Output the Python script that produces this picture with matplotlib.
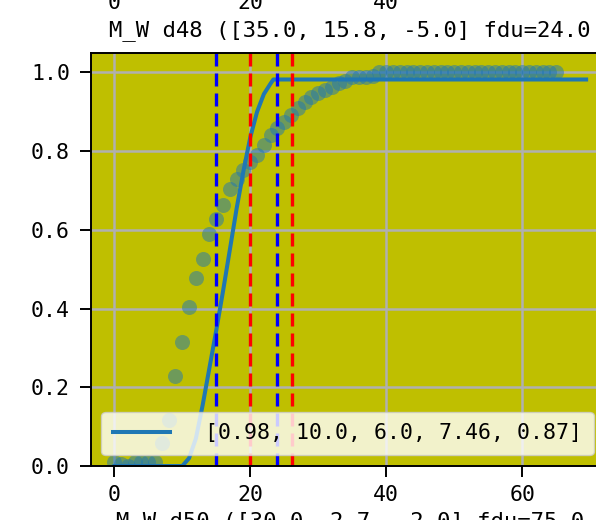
import matplotlib
matplotlib.use("Agg")
import matplotlib.pyplot as plt
from matplotlib.ticker import MultipleLocator

plt.rcParams['font.family'] = ['DejaVu Sans Mono']
plt.rcParams['font.size'] = 15.5

# measured points (x, cumulative fraction)
pts_x = list(range(0, 66))
pts_y = [0.01, 0.005, 0.0, 0.01, 0.01, 0.01, 0.01, 0.058, 0.117, 0.229,
         0.316, 0.403, 0.477, 0.527, 0.589, 0.627, 0.663, 0.703, 0.73, 0.752,
         0.773, 0.79, 0.815, 0.84, 0.858, 0.875, 0.892, 0.91, 0.925, 0.938,
         0.947, 0.955, 0.964, 0.972, 0.978, 0.988, 0.988, 0.988, 0.99] + [1.0] * 27

# fitted curve
fit_x = [0, 10, 11, 12, 13, 14, 15, 16, 17, 18, 19, 20, 21, 22, 23, 23.4, 69.4]
fit_y = [0, 0, 0.02, 0.07, 0.155, 0.25, 0.345, 0.445, 0.55, 0.655, 0.75, 0.835,
         0.9, 0.945, 0.972, 0.982, 0.982]
fit_label = "[0.98, 10.0, 6.0, 7.46, 0.87]"

blue_marks = [15.0, 24.0]
red_marks = [20.0, 26.1]

title = "M_W d48 ([35.0, 15.8, -5.0] fdu=24.0"
next_title = "M_W d50 ([30.0, 2.7, -2.0] fdu=75.0"
above_ticks = [0, 20, 40]

fig = plt.figure(figsize=(5.96, 5.20), dpi=100)
ax = fig.add_axes([0.1522, 0.1038, 0.8708, 0.7948])
ax.set_facecolor('y')

ax.scatter(pts_x, pts_y, s=117, alpha=0.5, color='C0', linewidths=0)
ax.plot(fit_x, fit_y, color='C0', lw=2.9, label=fit_label)
for v in blue_marks:
    ax.axvline(v, color='blue', lw=2.4, linestyle=(0, (3.9, 2.1)))
for v in red_marks:
    ax.axvline(v, color='red', lw=2.4, linestyle=(0, (3.9, 2.1)))

ax.set_ylim(0, 1.05)
ax.xaxis.set_major_locator(MultipleLocator(20))
ax.grid(True, color='#b0b0b0', lw=1.8)
ax.set_axisbelow(True)
ax.tick_params(length=7.7, width=1.4, pad=6)
ax.tick_params(axis='y', pad=7.2)
for s in ax.spines.values():
    s.set_linewidth(1.4)
ax.set_title(title, fontsize=16, pad=12)

ax.legend(loc='lower left', bbox_to_anchor=(0, 0), handlelength=2.65,
          handletextpad=1.6, borderpad=0.55, borderaxespad=0.5)

# bits of the neighbouring panels (tick labels above, title below)
for t in above_ticks:
    ax.annotate(str(t), xy=(t, 1), xycoords=('data', 'figure fraction'),
                xytext=(0, -9), textcoords='offset pixels',
                ha='center', va='baseline', fontsize=15.5,
                annotation_clip=False)
fig.text(350 / 596, 1 - 511 / 520, next_title, ha='center', va='top', fontsize=16)

fig.savefig("out.png", dpi=100)
